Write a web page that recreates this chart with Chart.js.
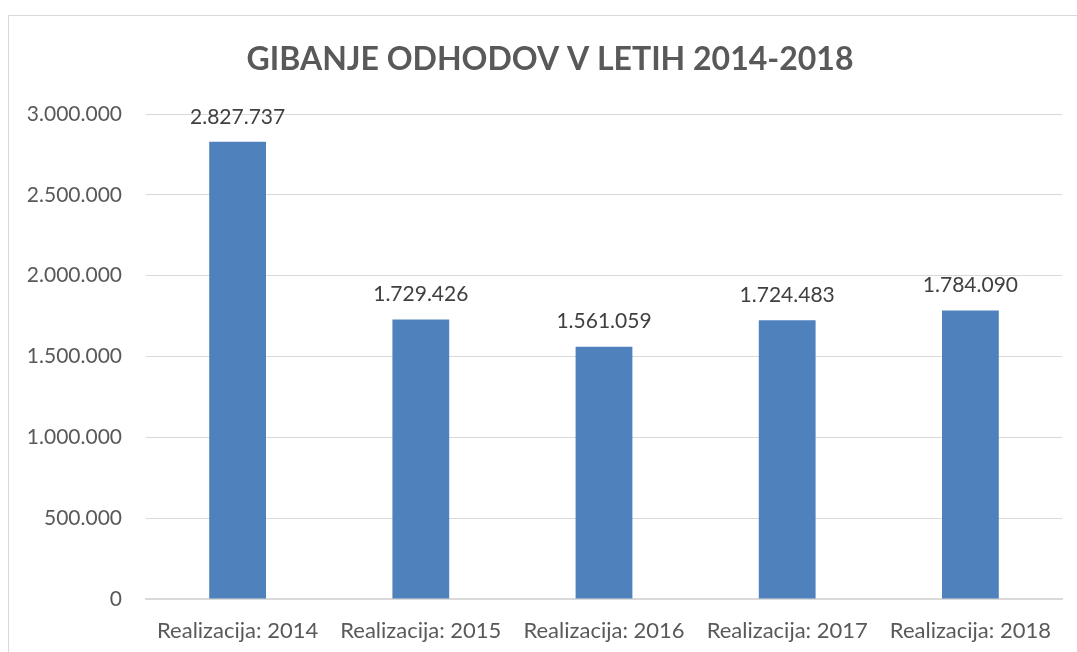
<!DOCTYPE html>
<html>
<head>
<meta charset="utf-8">
<script src="https://cdn.jsdelivr.net/npm/chart.js@4/dist/chart.umd.min.js"></script>
<style>
    body { margin: 0; background: #fff; }
    #okvir { position: absolute; left: 8px; top: 15px; width: 1100px; height: 700px; border: 1px solid #d9d9d9; }
    #wrap { position: absolute; left: 0; top: 0; width: 1077px; height: 652px; }
</style>
</head>
<body>
<div id="okvir"></div>
<div id="wrap"><canvas id="myChart" width="1077" height="652"></canvas></div>
<script>
var kategorije = ['Realizacija: 2014', 'Realizacija: 2015', 'Realizacija: 2016', 'Realizacija: 2017', 'Realizacija: 2018'];
var odhodi = [2827737, 1729426, 1561059, 1724483, 1784090];
var naslov = 'GIBANJE ODHODOV V LETIH 2014-2018';

function piko(n) {
    return String(Math.round(n)).replace(/\B(?=(\d{3})+(?!\d))/g, '.');
}

// naslov, sredinsko na okvir grafa
var naslovPlugin = {
    id: 'naslovPlugin',
    afterDraw: function (chart) {
        var ctx = chart.ctx;
        ctx.save();
        ctx.font = 'bold 32px Lato';
        ctx.fillStyle = '#595959';
        ctx.textAlign = 'center';
        ctx.textBaseline = 'middle';
        ctx.fillText(naslov, 550, 60);
        ctx.restore();
    }
};

// oznake nad stolpci
var oznake = {
    id: 'oznake',
    afterDatasetsDraw: function (chart) {
        var ctx = chart.ctx;
        var meta = chart.getDatasetMeta(0);
        ctx.save();
        ctx.font = '21px Lato';
        ctx.fillStyle = '#404040';
        ctx.textAlign = 'center';
        ctx.textBaseline = 'middle';
        meta.data.forEach(function (bar, i) {
            ctx.fillText(piko(odhodi[i]), bar.x, bar.y - 25);
        });
        ctx.restore();
    }
};

var ctx = document.getElementById('myChart').getContext('2d');
var myChart = new Chart(ctx, {
    type: 'bar',
    data: {
        labels: kategorije,
        datasets: [{
            data: odhodi,
            backgroundColor: '#4f81bd',
            borderWidth: 0,
            barPercentage: 0.62,
            categoryPercentage: 0.5
        }]
    },
    options: {
        responsive: false,
        animation: false,
        layout: { padding: { left: 0, right: 15, top: 114, bottom: 0 } },
        plugins: {
            legend: { display: false },
            tooltip: { enabled: false },
            title: { display: false }
        },
        scales: {
            y: {
                min: 0,
                max: 3000000,
                afterFit: function (s) { s.width = 146; },
                ticks: {
                    stepSize: 500000,
                    padding: 24,
                    color: '#595959',
                    font: { family: 'Lato', size: 21 },
                    callback: function (v) { return piko(v); }
                },
                grid: { color: '#d9d9d9', lineWidth: 1, drawTicks: false },
                border: { display: false }
            },
            x: {
                afterFit: function (s) { s.height = 53; },
                ticks: {
                    padding: 19,
                    color: '#595959',
                    font: { family: 'Lato', size: 22 },
                    maxRotation: 0
                },
                grid: { display: false, drawTicks: false },
                border: { color: '#d9d9d9', width: 2 }
            }
        }
    },
    plugins: [oznake, naslovPlugin]
});
</script>
</body>
</html>
